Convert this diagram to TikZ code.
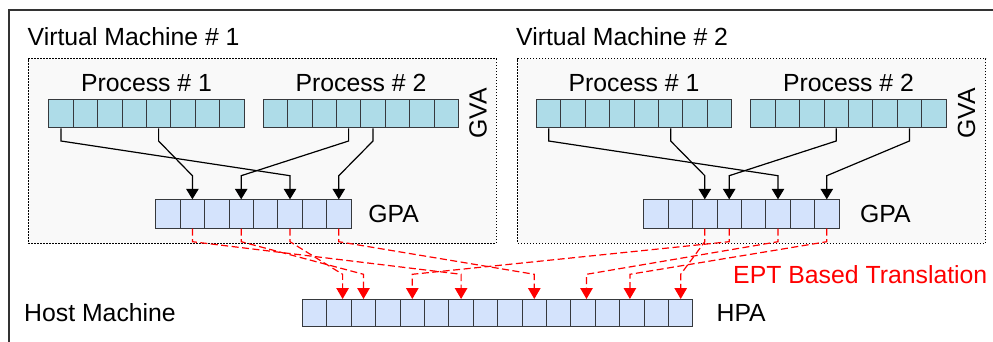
\documentclass[tikz,border=0pt]{standalone}
\usepackage{fontspec}
\setmainfont{Liberation Sans}
\usetikzlibrary{arrows.meta,calc}
\definecolor{procfill}{HTML}{AEDCE8}
\definecolor{addrfill}{HTML}{D4E3FC}
\definecolor{cellline}{HTML}{36393D}
\definecolor{vmfill}{HTML}{F9F9F9}
\definecolor{eptred}{HTML}{FF0000}
\definecolor{framegray}{HTML}{333333}
\begin{document}
\begin{tikzpicture}[x=1pt,y=-1pt,
  cellbox/.style={draw=cellline,line width=1pt,minimum width=24.4pt,minimum height=28pt,inner sep=0pt,anchor=north west},
  proccell/.style={cellbox,fill=procfill},
  addrcell/.style={cellbox,fill=addrfill},
  vmbox/.style={draw=black,fill=vmfill,line width=0.9pt,dash pattern=on 1.5pt off 1.5pt,inner sep=0pt,anchor=north west,minimum width=468pt,minimum height=184.4pt},
  lbl/.style={font=\fontsize{24.8}{29}\selectfont,inner sep=0pt},
  gvamap/.style={draw=black,line width=1.2pt,-{Triangle[width=12.5pt,length=10.5pt]}},
  eptmap/.style={draw=eptred,line width=1.2pt,dash pattern=on 7pt off 3.5pt,-{Triangle[width=12.5pt,length=11pt]}}
]
\useasboundingbox (0,0) rectangle (993,342);
% outer frame (only top and left edges are within view)
\draw[framegray,line width=1.5pt] (993,10) -- (9,10) -- (9,342);

% virtual machine containers
\node[vmbox] (vm1) at (27.7,58.3) {};
\node[vmbox] (vm2) at (517.3,58.3) {};

% titles
\node[lbl,anchor=base west] (vm1title) at (27.5,46) {Virtual Machine \# 1};
\node[lbl,anchor=base west] (vm2title) at (516,46) {Virtual Machine \# 2};
\node[lbl,anchor=base west] (hosttitle) at (24,321.7) {Host Machine};

% cells
\foreach \i in {0,...,7} {
  \node[proccell] (a1p1c\i) at (48.3+\i*24.4,99.3) {};
  \node[proccell] (a1p2c\i) at (262.7+\i*24.4,99.3) {};
  \node[addrcell,minimum height=28.4pt] (a1gc\i) at (155.3+\i*24.4,199.3) {};
  \node[proccell] (a2p1c\i) at (536+\i*24.4,99.3) {};
  \node[proccell] (a2p2c\i) at (750.3+\i*24.4,99.3) {};
  \node[addrcell,minimum height=28.4pt] (a2gc\i) at (643.3+\i*24.4,199.3) {};
}
\foreach \i in {0,...,15} {
  \node[addrcell,minimum height=27.3pt] (hc\i) at (302+\i*24.4,299) {};
}

% labels
\node[lbl,anchor=base] (a1p1t) at (146.5,91.7) {Process \# 1};
\node[lbl,anchor=base] (a1p2t) at (361,91.7) {Process \# 2};
\node[lbl,anchor=base] (a2p1t) at (634,91.7) {Process \# 1};
\node[lbl,anchor=base] (a2p2t) at (848.5,91.7) {Process \# 2};
\node[lbl,rotate=90] (a1gva) at (478,113.5) {GVA};
\node[lbl,rotate=90] (a2gva) at (966.7,113.5) {GVA};
\node[lbl,anchor=base west] (a1gpa) at (368.2,222.7) {GPA};
\node[lbl,anchor=base west] (a2gpa) at (859.8,222.7) {GPA};
\node[lbl,anchor=base west] (hpa) at (716.4,321.7) {HPA};
\node[lbl,anchor=base west,text=eptred] (ept) at (733,283.3) {EPT Based Translation};

% GVA -> GPA (VM 1)
\draw[gvamap] (a1p1c0.south) -- ++(0,12.7) -- ($(a1gc5.north)+(0,-23.6)$) -- (a1gc5.north);
\draw[gvamap] (a1p1c4.south) -- ++(0,12.7) -- ($(a1gc1.north)+(0,-23.6)$) -- (a1gc1.north);
\draw[gvamap] (a1p2c3.south) -- ++(0,12.7) -- ($(a1gc3.north)+(0,-23.6)$) -- (a1gc3.north);
\draw[gvamap] (a1p2c4.south) -- ++(0,12.7) -- ($(a1gc7.north)+(0,-23.6)$) -- (a1gc7.north);
% GVA -> GPA (VM 2)
\draw[gvamap] (a2p1c0.south) -- ++(0,12.7) -- ($(a2gc5.north)+(0,-23.6)$) -- (a2gc5.north);
\draw[gvamap] (a2p1c5.south) -- ++(0,12.7) -- ($(a2gc2.north)+(0,-23.6)$) -- (a2gc2.north);
\draw[gvamap] (a2p2c3.south) -- ++(0,12.7) -- ($(a2gc3.north)+(0,-23.6)$) -- (a2gc3.north);
\draw[gvamap] (a2p2c6.south) -- ++(0,12.7) -- ($(a2gc7.north)+(0,-23.6)$) -- (a2gc7.north);

% GPA -> HPA (EPT)
\draw[eptmap] (a1gc1.south) -- ++(0,13) -- ($(hc6.north)+(0,-24.7)$) -- (hc6.north);
\draw[eptmap] (a1gc3.south) -- ++(0,13) -- ($(hc2.north)+(0,-24.7)$) -- (hc2.north);
\draw[eptmap] (a1gc5.south) -- ++(0,13) -- ($(hc1.north)+(3.5,-24.7)$) -- ($(hc1.north)+(3.5,0)$);
\draw[eptmap] (a1gc7.south) -- ++(0,13) -- ($(hc9.north)+(0,-24.7)$) -- (hc9.north);
\draw[eptmap] (a2gc2.south) -- ++(0,13) -- ($(hc15.north)+(0,-24.7)$) -- (hc15.north);
\draw[eptmap] (a2gc3.south) -- ++(0,13) -- ($(hc4.north)+(0,-24.7)$) -- (hc4.north);
\draw[eptmap] (a2gc5.south) -- ++(0,13) -- ($(hc11.north)+(3.4,-24.7)$) -- ($(hc11.north)+(3.4,0)$);
\draw[eptmap] (a2gc7.south) -- ++(0,13) -- ($(hc13.north)+(-2,-24.7)$) -- ($(hc13.north)+(-2,0)$);
\end{tikzpicture}
\end{document}
